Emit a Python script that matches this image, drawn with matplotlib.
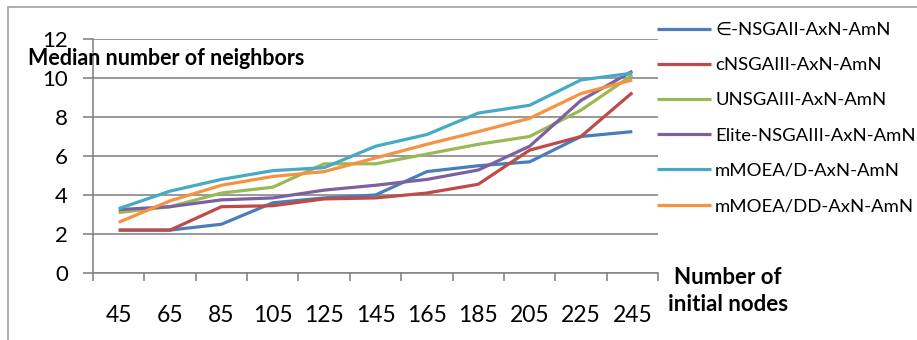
import numpy as np
import matplotlib
matplotlib.use("Agg")
import matplotlib.pyplot as plt
from matplotlib.patches import Rectangle

# ---- data ----
nodes = [45, 65, 85, 105, 125, 145, 165, 185, 205, 225, 245]

e_nsgaii = [2.2, 2.2, 2.5, 3.6, 3.85, 4.0, 5.2, 5.5, 5.7, 7.0, 7.25]
c_nsgaiii = [2.2, 2.2, 3.4, 3.45, 3.8, 3.85, 4.1, 4.55, 6.3, 7.0, 9.25]
u_nsgaiii = [3.1, 3.4, 4.1, 4.4, 5.6, 5.6, 6.1, 6.6, 7.0, 8.35, 10.15]
elite_nsgaiii = [3.25, 3.4, 3.75, 3.85, 4.25, 4.5, 4.8, 5.28, 6.5, 8.85, 10.35]
mmoead = [3.3, 4.2, 4.8, 5.25, 5.4, 6.5, 7.1, 8.2, 8.6, 9.9, 10.25]
mmoeadd = [2.6, 3.7, 4.5, 4.95, 5.2, 5.9, 6.6, 7.25, 7.93, 9.2, 9.9]

series = [e_nsgaii, c_nsgaiii, u_nsgaiii, elite_nsgaiii, mmoead, mmoeadd]
labels = ["\u2208-NSGAII-AxN-AmN", "cNSGAIII-AxN-AmN", "UNSGAIII-AxN-AmN",
          "Elite-NSGAIII-AxN-AmN", "mMOEA/D-AxN-AmN", "mMOEA/DD-AxN-AmN"]
colors = ["#4A7EBB", "#BE4B48", "#98B954", "#7D60A0", "#46AAC5", "#F69240"]

plt.rcParams['font.family'] = ['Lato', 'DejaVu Sans']
grey = "#868686"

fig = plt.figure(figsize=(9.17, 3.4), dpi=100)
ax = fig.add_axes([93/917, 1 - 273/340, (658 - 93)/917, (273 - 39)/340])

idx = np.arange(len(nodes))
for vals, lab, col in zip(series, labels, colors):
    ax.plot(idx, vals, color=col, lw=2.3, label=lab, solid_capstyle='butt')

ax.set_xlim(-0.5, len(nodes) - 0.5)
ax.set_ylim(0, 12)
ax.set_yticks(range(0, 13, 2))
ax.set_xticks(idx)
ax.set_xticklabels([str(n) for n in nodes])
ax.set_xticks(np.arange(-0.5, len(nodes), 1), minor=True)

ax.grid(axis='y', color=grey, lw=1.2)
ax.set_axisbelow(True)
for s in ['top', 'right']:
    ax.spines[s].set_visible(False)
for s in ['left', 'bottom']:
    ax.spines[s].set_color(grey)
    ax.spines[s].set_linewidth(1.2)

ax.tick_params(axis='y', length=7, color=grey, width=1.2, pad=11, labelsize=16)
ax.tick_params(axis='x', which='major', length=0, pad=23, labelsize=16.5)
ax.tick_params(axis='x', which='minor', length=6, color=grey, width=1.2)

fig.text(28/917, 1 - 65/340, "Median number of neighbors", fontsize=15.5,
         fontweight='bold', ha='left', va='baseline')
fig.text(728/917, 1 - 291/340, "Number of\ninitial nodes", fontsize=16,
         fontweight='bold', ha='center', va='center', linespacing=1.4)

ax.legend(loc='upper left', bbox_to_anchor=(657/917, 1 - 22/340),
          bbox_transform=fig.transFigure, frameon=False, fontsize=13.3,
          handlelength=2.95, handletextpad=0.2, labelspacing=1.04,
          borderpad=0, borderaxespad=0)

# partial chart-area border
fig.patches.append(Rectangle((8/917, -0.2), 2.0, 1.2 - 7/340, transform=fig.transFigure,
                             fill=False, edgecolor="#a0a0a0", lw=1.2, clip_on=False))

fig.savefig("out.png", dpi=100)
